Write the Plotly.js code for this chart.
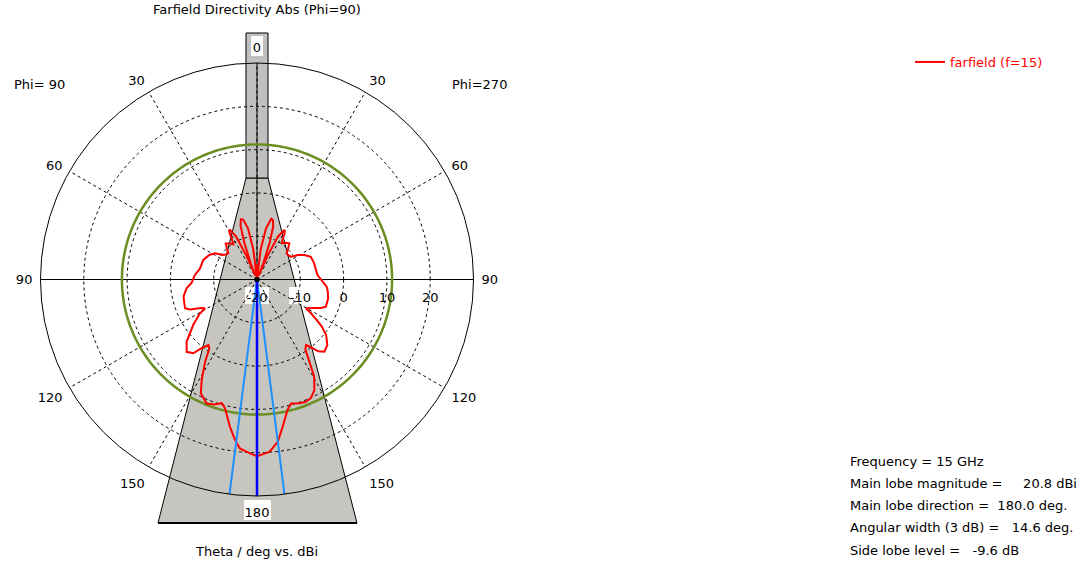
<!DOCTYPE html>
<html>
<head>
<meta charset="utf-8">
<script src="https://cdn.plot.ly/plotly-3.0.1.min.js"></script>
<style>html,body{margin:0;padding:0;background:#fff;}#chart{width:1082px;height:563px;}</style>
</head>
<body>
<div id="chart"></div>
<script>
// ---- data ----
const chartTitle = "Farfield Directivity Abs (Phi=90)";
const axisCaption = "Theta / deg vs. dBi";
const seriesName = "farfield (f=15)";
const leftCutLabel = "Phi=\u00a090";
const rightCutLabel = "Phi=270";

// Phi=270 cut (right half), theta in degrees, directivity in dBi
const thetaPhi270 = [0,2,4,7,10,13.2,15,17,19,21,22.5,24,26,28.9,31,33,34.6,38,41.7,45,48.6,52,56.2,59,62.6,67.1,74,80.9,85.8,91.9,96,99.8,105,111.5,114,117,120.4,122,124,126,128.8,133,137,139.5,141.5,143.2,145.3,147.5,149.5,152.6,155.6,158.5,161.1,164.6,166.8,170.1,172.7,175.9,180];
const dbPhi270 = [-16.5,-19,-20,-13,-8,-5.6,-5.8,-7.2,-11,-16,-19,-14,-9,-6.9,-7.6,-9.3,-9.8,-9.2,-8.8,-9.8,-10.9,-10.8,-10.6,-9,-7.7,-6.5,-6.3,-6.2,-6.0,-4.8,-3.8,-3.4,-3.0,-2.9,-3.8,-5.5,-6.9,-5.3,-3.5,-1.5,0.5,2.2,2.8,1.8,0,-1.1,-0.4,2.5,6.0,8.8,10.1,10.4,10.2,9.7,10.9,14.5,17.8,19.9,20.8];

// Phi=90 cut (left half)
const thetaPhi90 = [0,2,4,7,10,13,15,17,19,21,22.5,24,26,28.7,30.5,32.5,34,37,41,44,47.5,51,54,58,62.8,70,79,86,92.8,97.2,103,107,111.8,114,117,119,121,125.5,131.5,135.8,139.2,141,143.4,145.4,147.7,151.2,153.7,157.9,161,164.1,166,169.6,172.2,174.2,177.7,180];
const dbPhi90 = [-16.5,-19,-20,-13,-8,-5.8,-5.6,-7,-11,-16,-19,-14,-9,-6.8,-7.5,-9.5,-10.2,-9.5,-9.0,-10,-11,-10.8,-10.4,-8.6,-7.6,-6.8,-6.6,-5.6,-4.9,-3.6,-2.6,-2.4,-2.1,-3,-5.5,-6.3,-4.5,-1.9,1.7,3.3,2.5,0.5,-1.2,-0.6,2.4,6.5,9.3,10.9,10.5,9.7,10.6,14.6,17.4,19.2,20.2,20.8];

// summary values
const mainLobeMagnitude = 20.8;   // dBi
const mainLobeDirection = 180.0;  // deg
const angularWidth3dB = 14.6;     // deg
const sideLobeLevel = -9.6;       // dB

// axes
const radialRange = [-20, 30];
const radialTickVals = [-20, -10, 0, 10, 20];
const radialTickText = ["-20", "-10", "0", "10", "20"];
const angularTickVals = [0,30,60,90,120,150,180,210,240,270,300,330];
const angularTickText = ["0","30","60","90","120","150","180","150","120","90","60","30"];

const infoLines = [
  "Frequency = 15 GHz",
  "Main lobe magnitude =\u00a0\u00a0\u00a0\u00a0\u00a020.8 dBi",
  "Main lobe direction =\u00a0\u00a0180.0 deg.",
  "Angular width (3 dB) =\u00a0\u00a0\u00a014.6 deg.",
  "Side lobe level =\u00a0\u00a0\u00a0-9.6 dB"
];

// ---- layout helpers (pixel -> paper) ----
const W = 1082, H = 563;
const px = x => x / W;
const py = y => 1 - y / H;
const FONT = "DejaVu Sans, Tahoma, sans-serif";
const CX = 257, CY = 279.5, R = 216.5;

// build the closed curve: right half (Phi=270) then left half (Phi=90) mirrored
const curveTheta = thetaPhi270.slice();
const curveR = dbPhi270.slice();
for (let i = thetaPhi90.length - 1; i >= 0; i--) {
  curveTheta.push(360 - thetaPhi90[i]);
  curveR.push(dbPhi90[i]);
}

// side lobe reference circle
const slRadius = mainLobeMagnitude + sideLobeLevel;
const circTheta = [], circR = [];
for (let a = 0; a <= 360; a += 2) { circTheta.push(a); circR.push(slRadius); }

const rMin = radialRange[0], rMax = radialRange[1];
const halfW = angularWidth3dB / 2;

const traces = [
  { type: "scatterpolar", mode: "lines", r: [rMax, rMin, rMax], theta: [90, 90, 270],
    line: {color: "#000", width: 1}, showlegend: false, hoverinfo: "skip" },
  { type: "scatterpolar", mode: "lines", r: [rMax, rMin, rMax], theta: [0, 0, 180],
    line: {color: "#000", width: 1}, showlegend: false, hoverinfo: "skip" },
  { type: "scatterpolar", mode: "lines", r: circR, theta: circTheta,
    line: {color: "#6b8e23", width: 2.5}, showlegend: false, hoverinfo: "skip" },
  { type: "scatterpolar", mode: "lines", r: curveR, theta: curveTheta, name: seriesName,
    line: {color: "#ff0000", width: 2}, showlegend: true },
  { type: "scatterpolar", mode: "lines", r: [rMax, rMin, rMax],
    theta: [mainLobeDirection - halfW, 0, mainLobeDirection + halfW],
    line: {color: "#1e90ff", width: 2}, showlegend: false, hoverinfo: "skip" },
  { type: "scatterpolar", mode: "lines", r: [rMin, rMax], theta: [mainLobeDirection, mainLobeDirection],
    line: {color: "#0000ff", width: 2.5}, showlegend: false, hoverinfo: "skip" },
  { type: "scatterpolar", mode: "markers", r: [rMin], theta: [0],
    marker: {color: "#000", size: 5}, showlegend: false, hoverinfo: "skip" }
];

// decorative horn sketch behind the plot
function path(pts) { return "M" + pts.map(p => px(p[0]) + "," + py(p[1])).join("L") + "Z"; }
const shapes = [
  { type: "path", xref: "paper", yref: "paper", layer: "below",
    path: path([[246,178],[268,178],[357,523],[158,523]]),
    fillcolor: "#c6c5bf", line: {color: "#000", width: 1} },
  { type: "line", xref: "paper", yref: "paper", layer: "below",
    x0: px(158), x1: px(357), y0: py(523), y1: py(523), line: {color: "#000", width: 2} },
  { type: "path", xref: "paper", yref: "paper", layer: "below",
    path: path([[246,33],[268,33],[268,178],[246,178]]),
    fillcolor: "#c0c0c0", line: {color: "#000", width: 1} },
  // white label backgrounds
  { type: "rect", xref: "paper", yref: "paper", layer: "below",
    x0: px(251), x1: px(263), y0: py(36), y1: py(56), fillcolor: "#fff", line: {width: 0} },
  { type: "rect", xref: "paper", yref: "paper", layer: "below",
    x0: px(244), x1: px(271), y0: py(500), y1: py(520), fillcolor: "#fff", line: {width: 0} },
  { type: "rect", xref: "paper", yref: "paper", layer: "below",
    x0: px(245), x1: px(269), y0: py(287), y1: py(304), fillcolor: "#fff", line: {width: 0} },
  { type: "rect", xref: "paper", yref: "paper", layer: "below",
    x0: px(289), x1: px(313), y0: py(287), y1: py(304), fillcolor: "#fff", line: {width: 0} }
];

const annotations = [
  { text: leftCutLabel, xref: "paper", yref: "paper", x: px(12), y: py(85), xanchor: "left", yanchor: "middle", showarrow: false },
  { text: rightCutLabel, xref: "paper", yref: "paper", x: px(450), y: py(85), xanchor: "left", yanchor: "middle", showarrow: false },
  { text: axisCaption, xref: "paper", yref: "paper", x: px(256), y: py(551), xanchor: "center", yanchor: "middle", showarrow: false }
];
infoLines.forEach((t, i) => annotations.push({
  text: t, xref: "paper", yref: "paper", x: px(848), y: py(461 + i * 22.3),
  xanchor: "left", yanchor: "middle", showarrow: false
}));

const gridStyle = {gridcolor: "#000", gridwidth: 1, griddash: "3px,3px"};
const layout = {
  width: W, height: H,
  margin: {l: 0, r: 0, t: 0, b: 0},
  paper_bgcolor: "#fff",
  font: {family: FONT, size: 13, color: "#000"},
  title: {text: chartTitle, x: px(CX), xanchor: "center", y: py(9), yanchor: "middle",
          font: {family: FONT, size: 13, color: "#000"}},
  showlegend: true,
  legend: {x: px(910), xanchor: "left", y: py(47), yanchor: "top", bgcolor: "rgba(0,0,0,0)",
           font: {family: FONT, size: 13, color: "#ff0000"}},
  polar: {
    domain: {x: [px(CX - R), px(CX + R)], y: [py(CY + R), py(CY - R)]},
    bgcolor: "rgba(0,0,0,0)",
    angularaxis: Object.assign({
      rotation: 90, direction: "clockwise",
      tickmode: "array", tickvals: angularTickVals, ticktext: angularTickText,
      showline: true, linecolor: "#000", linewidth: 1,
      ticks: "outside", ticklen: 5, tickcolor: "rgba(0,0,0,0)",
      tickfont: {family: FONT, size: 13, color: "#000"}
    }, gridStyle),
    radialaxis: Object.assign({
      range: radialRange, tickmode: "array", tickvals: radialTickVals, ticktext: radialTickText,
      angle: 0, side: "clockwise", showline: false,
      ticks: "outside", ticklen: 6, tickcolor: "rgba(0,0,0,0)",
      tickfont: {family: FONT, size: 13, color: "#000"}
    }, gridStyle)
  },
  shapes: shapes,
  annotations: annotations
};

Plotly.newPlot("chart", traces, layout, {displayModeBar: false, staticPlot: true});
</script>
</body>
</html>
